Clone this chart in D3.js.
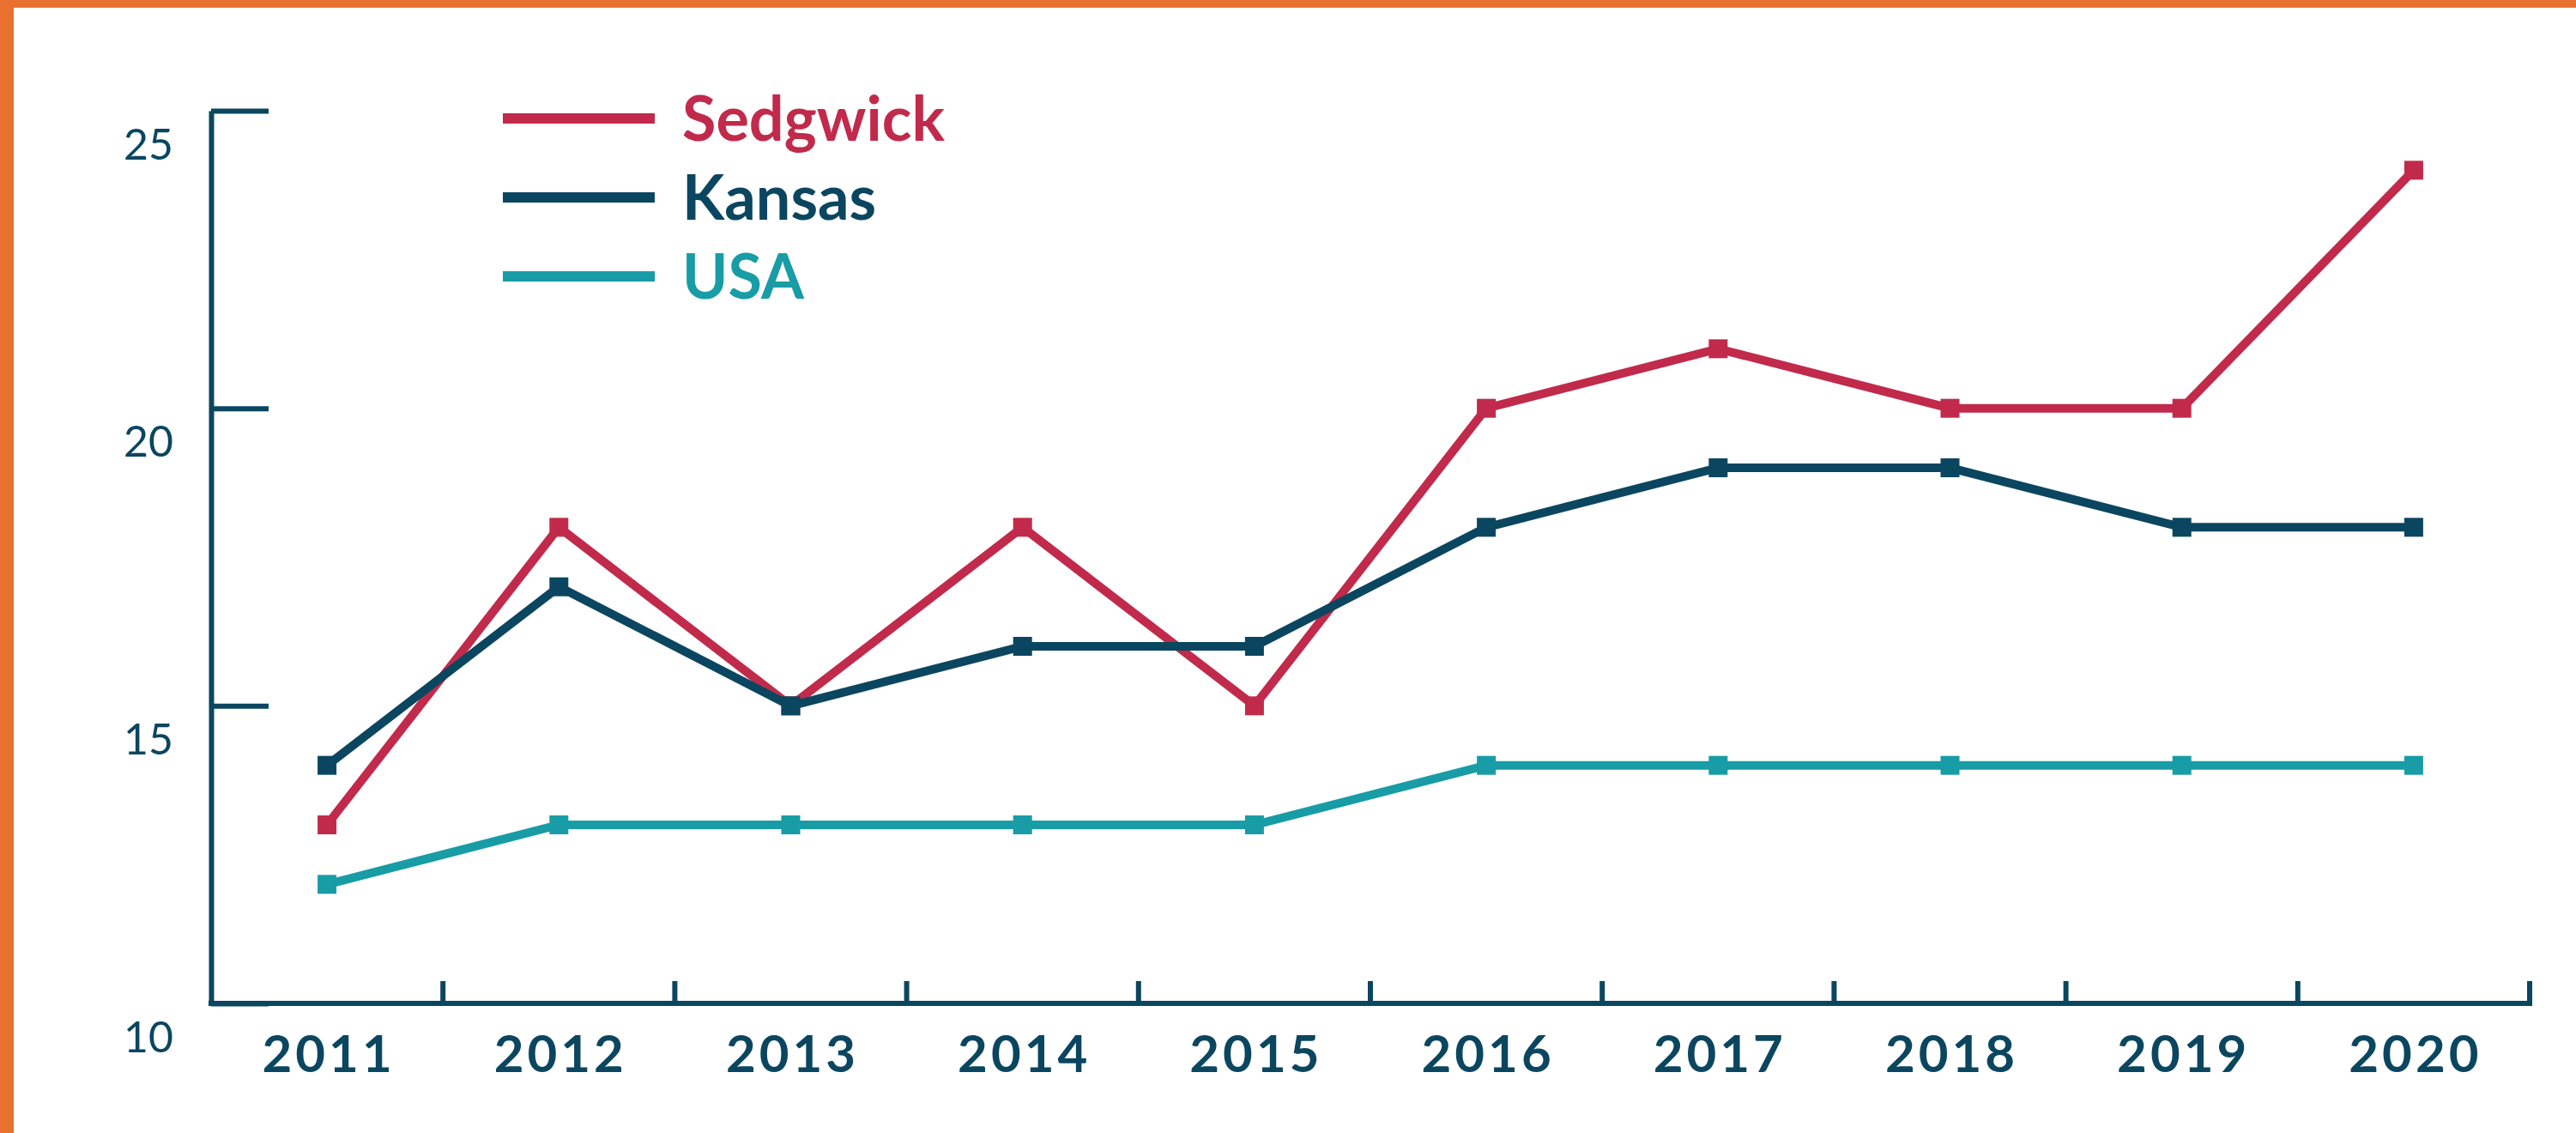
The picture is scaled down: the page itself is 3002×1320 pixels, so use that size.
<!DOCTYPE html>
<html lang="en">
<head>
<meta charset="UTF-8">
<title>Sedgwick / Kansas / USA</title>
<script src="https://cdn.jsdelivr.net/npm/d3@7"></script>
<style>
  body { margin: 0; background: #ffffff; }
  svg { display: block; }
  .ylab text { font-family: Lato, 'Open Sans', sans-serif; font-weight: 400; fill: #0b4660; }
  .xlab text { font-family: Lato, 'Open Sans', sans-serif; font-weight: 700; fill: #0b4660; letter-spacing: 4px; }
  .legend text { font-family: Lato, 'Open Sans', sans-serif; font-weight: 700; }
</style>
</head>
<body>
<svg id="chart" width="3002" height="1320"></svg>
<script>
// data
const years = [2011, 2012, 2013, 2014, 2015, 2016, 2017, 2018, 2019, 2020];
const sedgwick = [13, 18, 15, 18, 15, 20, 21, 20, 20, 24];
const kansas = [14, 17, 15, 16, 16, 18, 19, 19, 18, 18];
const usa = [12, 13, 13, 13, 13, 14, 14, 14, 14, 14];
const yTicks = [10, 15, 20, 25];
const seriesNames = ["Sedgwick", "Kansas", "USA"];

const navy = "#0b4660";
const colors = { Sedgwick: "#c12a4b", Kansas: "#0b4660", USA: "#189ca6" };
const orange = "#e8712f";

const svg = d3.select("#chart");
const W = 3002, H = 1320;

// orange frame (top and left only)
svg.append("rect").attr("x", 0).attr("y", 0).attr("width", W).attr("height", 9).attr("fill", orange);
svg.append("rect").attr("x", 0).attr("y", 0).attr("width", 16).attr("height", H).attr("fill", orange);

const plotLeft = 246, plotRight = 2948, plotTop = 129, plotBottom = 1169;

const x = d3.scaleBand().domain(years).range([plotLeft, plotRight]);
const y = d3.scaleLinear().domain([10, 25]).range([plotBottom, plotTop]);
const cx = d => x(d) + x.bandwidth() / 2;

// y axis, ticks point inward, labels sit below each tick
const yAxis = svg.append("g")
    .attr("class", "ylab")
    .attr("transform", `translate(${plotLeft},0)`)
    .call(d3.axisLeft(y).tickValues(yTicks).tickSizeInner(-67).tickSizeOuter(0).tickPadding(44));
yAxis.select(".domain").attr("stroke", navy).attr("stroke-width", 6);
yAxis.selectAll(".tick line").attr("stroke", navy).attr("stroke-width", 6);
yAxis.selectAll(".tick text")
    .attr("font-size", 50)
    .attr("dy", 56)
    .attr("x", -44);

// x axis line with ticks on band boundaries
const xg = svg.append("g").attr("class", "xaxis");
xg.append("line")
    .attr("x1", plotLeft - 3).attr("x2", plotRight + 3)
    .attr("y1", plotBottom).attr("y2", plotBottom)
    .attr("stroke", navy).attr("stroke-width", 6);
const bounds = years.slice(1).map(d => x(d)).concat([plotRight]);
xg.selectAll(".bt").data(bounds).enter().append("line")
    .attr("class", "bt")
    .attr("x1", d => d).attr("x2", d => d)
    .attr("y1", plotBottom).attr("y2", plotBottom - 26)
    .attr("stroke", navy).attr("stroke-width", 6);

// year labels
const xAxis = svg.append("g")
    .attr("class", "xlab")
    .attr("transform", `translate(0,${plotBottom})`)
    .call(d3.axisBottom(x).tickSize(0).tickPadding(37));
xAxis.select(".domain").remove();
xAxis.selectAll(".tick text")
    .attr("font-size", 60)
    .attr("dy", "0.71em")
    .attr("dx", 2);

// series
const series = [
  { name: "Sedgwick", values: sedgwick },
  { name: "Kansas", values: kansas },
  { name: "USA", values: usa }
];

const line = d3.line()
    .x((d, i) => cx(years[i]))
    .y(d => y(d));

const drawOrder = ["USA", "Sedgwick", "Kansas"];
drawOrder.forEach(n => {
  const s = series.find(d => d.name === n);
  const g = svg.append("g");
  g.append("path")
      .datum(s.values)
      .attr("d", line)
      .attr("fill", "none")
      .attr("stroke", colors[n])
      .attr("stroke-width", 10)
      .attr("stroke-linejoin", "miter");
  g.selectAll("rect").data(s.values).enter().append("rect")
      .attr("x", (d, i) => cx(years[i]) - 11)
      .attr("y", d => y(d) - 11)
      .attr("width", 22).attr("height", 22)
      .attr("fill", colors[n]);
});

// legend
const legY = d3.scalePoint().domain(seriesNames).range([138, 322]);
const leg = svg.append("g").attr("class", "legend");
seriesNames.forEach(n => {
  leg.append("line")
      .attr("x1", 586).attr("x2", 763)
      .attr("y1", legY(n)).attr("y2", legY(n))
      .attr("stroke", colors[n]).attr("stroke-width", 12);
  leg.append("text")
      .attr("x", 795).attr("y", legY(n) + 26)
      .attr("font-size", 72)
      .attr("fill", colors[n])
      .text(n);
});
</script>
</body>
</html>
